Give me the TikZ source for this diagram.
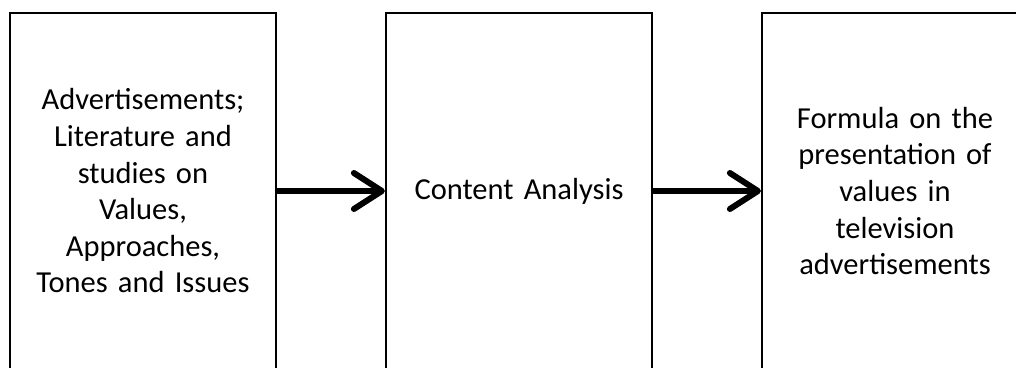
\documentclass[tikz,border=0pt]{standalone}
\usepackage{fontspec}
\setmainfont{Carlito}
\usetikzlibrary{arrows.meta}
\begin{document}
\begin{tikzpicture}[x=1pt,y=-1pt,
  box/.style={draw=black,line width=2.2pt,minimum width=266pt,minimum height=356pt,
    align=center,text width=255pt,inner sep=0pt,
    font=\fontsize{30.5}{36.6}\selectfont},
  flow/.style={line width=6pt,-{Straight Barb[length=28pt,width=36pt,round]}}]
\clip (0,0) rectangle (1016,367);
\fill[white] (0,0) rectangle (1016,367);
\node[box] (b1) at (143,191) {Advertisements;\\Literature and\\studies on\\Values,\\Approaches,\\Tones and Issues};
\node[box] (b2) at (519,191) {Content Analysis};
\node[box] (b3) at (895,191) {Formula on the\\presentation of\\values in\\television\\advertisements};
\draw[flow] (b1) -- (b2);
\draw[flow] (b2) -- (b3);
\end{tikzpicture}
\end{document}
